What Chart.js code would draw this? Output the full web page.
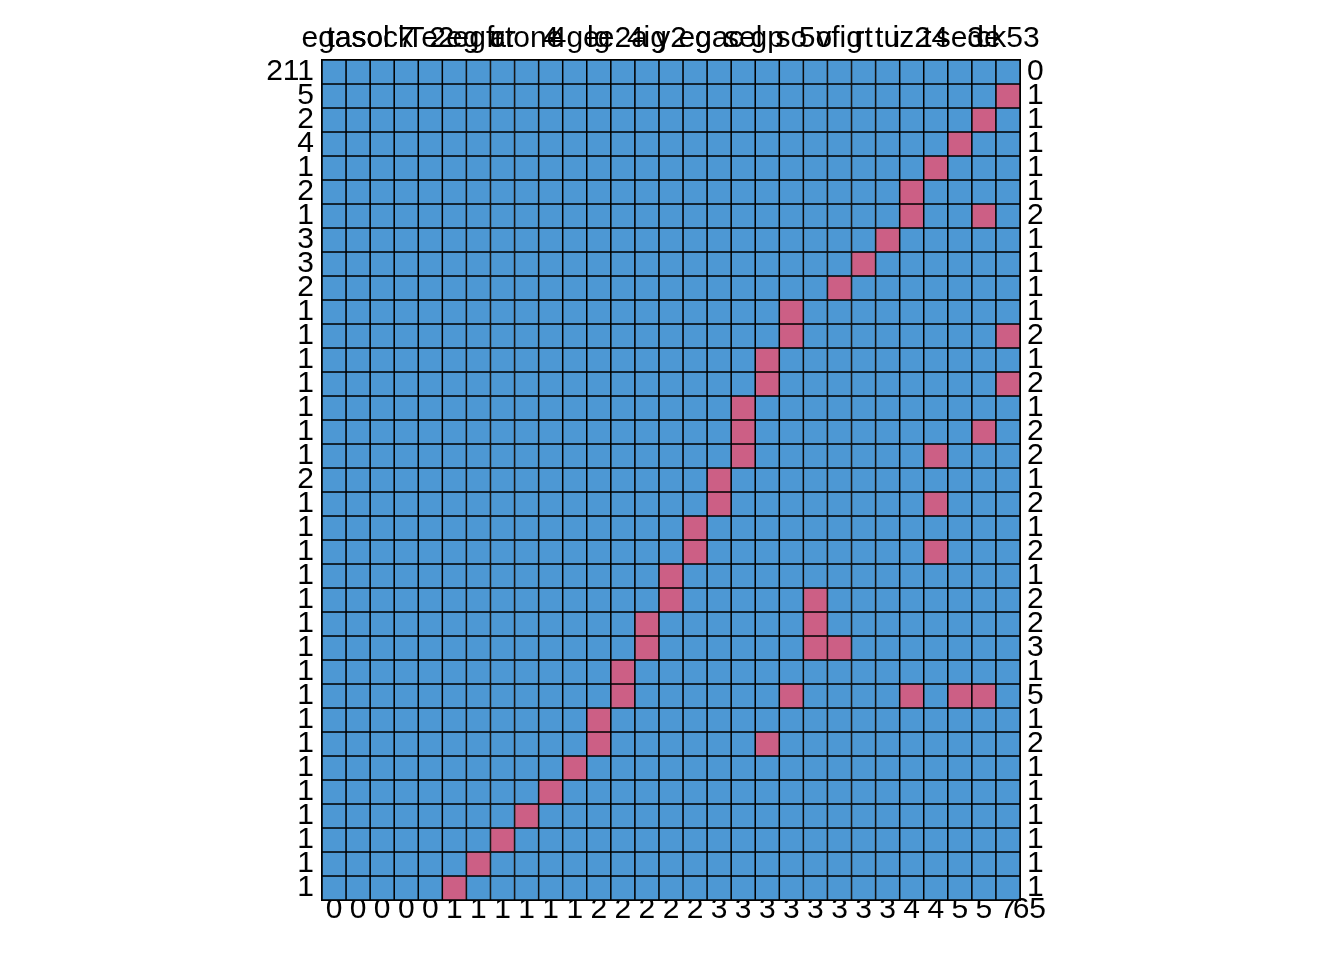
<!DOCTYPE html>
<html>
<head>
<meta charset="utf-8">
<script src="https://cdn.jsdelivr.net/npm/chart.js@4.4.0/dist/chart.umd.min.js"></script>
<style>
body { margin: 0; background: #fff; }
</style>
</head>
<body>
<canvas id="patron" width="1344" height="960"></canvas>
<script>
// nombres de las variables (fila de arriba)
var variables = ['egas', 'tasol', 'sock', '7', 'Te2', '2eg', 'egfr', 'ar', 'ctone', '4',
    '4ge', 'lg', 'e2a', '4ig', 'y2', 'eg', 'gac', 'sel', 'gp', 'so',
    '5o', 'vfig', 'rt', 'tu', 'iz2', 't4', 'se3', 'de', 'ck53'];

// cuántas veces aparece cada patrón (izquierda)
var frecuencias = [211, 5, 2, 4, 1, 2, 1, 3, 3, 2, 1, 1, 1, 1, 1, 1, 1, 2, 1, 1,
    1, 1, 1, 1, 1, 1, 1, 1, 1, 1, 1, 1, 1, 1, 1];

// columnas que faltan en cada patrón
var faltantes = [[], [28], [27], [26], [25], [24], [24, 27], [23], [22], [21],
    [19], [19, 28], [18], [18, 28], [17], [17, 27], [17, 25], [16], [16, 25], [15],
    [15, 25], [14], [14, 20], [13, 20], [13, 20, 21], [12], [12, 19, 24, 26, 27], [11], [11, 18], [10],
    [9], [8], [7], [6], [5]];

// número de variables faltantes en cada patrón (derecha)
var numFaltantes = [0, 1, 1, 1, 1, 1, 2, 1, 1, 1, 1, 2, 1, 2, 1, 2, 2, 1, 2, 1,
    2, 1, 2, 2, 3, 1, 5, 1, 2, 1, 1, 1, 1, 1, 1];

// faltantes por variable (abajo)
var faltantesVariable = [0, 0, 0, 0, 0, 1, 1, 1, 1, 1, 1, 2, 2, 2, 2, 2, 3, 3, 3, 3,
    3, 3, 3, 3, 4, 4, 5, 5, 7];
var totalFaltantes = 65;

var azul = '#4D98D4';
var rojo = '#CC5F85';
var fuente = { family: 'Arial', size: 30 };

// una serie por fila, cada celda vale 1
var series = faltantes.map(function(fila, r) {
    return {
        label: 'patron ' + (r + 1),
        data: variables.map(function() { return 1; }),
        backgroundColor: variables.map(function(v, c) {
            return fila.indexOf(c) >= 0 ? rojo : azul;
        }),
        borderColor: '#000',
        borderWidth: 1.1,
        borderSkipped: false,
        barPercentage: 1,
        categoryPercentage: 1,
        stack: 'filas'
    };
});

function ticksFilas(scale) {
    scale.ticks = frecuencias.map(function(f, i) { return { value: i + 0.5 }; });
}

var borde = { display: true, color: '#000', width: 2 };

// texto de la esquina (total de faltantes)
var esquina = {
    id: 'esquina',
    afterDraw: function(chart) {
        var ctx = chart.ctx;
        var ex = chart.scales.x;
        var der = chart.scales.y2;
        ctx.save();
        ctx.font = '30px Arial';
        ctx.fillStyle = '#000';
        ctx.textAlign = 'right';
        ctx.textBaseline = 'middle';
        ctx.fillText(String(totalFaltantes), der.left + 26, ex.top - 8 + 30 * 1.2 / 2);
        ctx.restore();
    }
};

new Chart(document.getElementById('patron').getContext('2d'), {
    type: 'bar',
    data: {
        labels: variables,
        datasets: series
    },
    plugins: [esquina],
    options: {
        responsive: false,
        animation: false,
        devicePixelRatio: 1,
        layout: { padding: 0 },
        plugins: {
            legend: { display: false },
            tooltip: { enabled: false }
        },
        scales: {
            x: {
                position: 'bottom',
                stacked: true,
                offset: true,
                grid: { display: false, drawTicks: false },
                border: borde,
                afterFit: function(s) { s.height = 60; },
                ticks: {
                    autoSkip: false, maxRotation: 0, minRotation: 0,
                    padding: -8, color: '#000', font: fuente,
                    callback: function(v, i) { return String(faltantesVariable[i]); }
                }
            },
            x2: {
                type: 'category',
                labels: variables,
                position: 'top',
                offset: true,
                grid: { display: false, drawTicks: false },
                border: borde,
                afterFit: function(s) { s.height = 60; },
                ticks: {
                    autoSkip: false, maxRotation: 0, minRotation: 0,
                    padding: 3, color: '#000', font: fuente
                }
            },
            y: {
                type: 'linear',
                position: 'left',
                stacked: true,
                reverse: true,
                min: 0,
                max: frecuencias.length,
                grid: { display: false, drawTicks: false },
                border: borde,
                afterFit: function(s) { s.width = 322; },
                afterBuildTicks: ticksFilas,
                ticks: {
                    autoSkip: false, padding: 8, color: '#000', font: fuente,
                    callback: function(v, i) { return String(frecuencias[i]); }
                }
            },
            y2: {
                type: 'linear',
                position: 'right',
                reverse: true,
                min: 0,
                max: frecuencias.length,
                grid: { display: false, drawTicks: false },
                border: borde,
                afterFit: function(s) { s.width = 324; },
                afterBuildTicks: ticksFilas,
                ticks: {
                    autoSkip: false, padding: 7, color: '#000', font: fuente,
                    callback: function(v, i) { return String(numFaltantes[i]); }
                }
            }
        }
    }
});
</script>
</body>
</html>
